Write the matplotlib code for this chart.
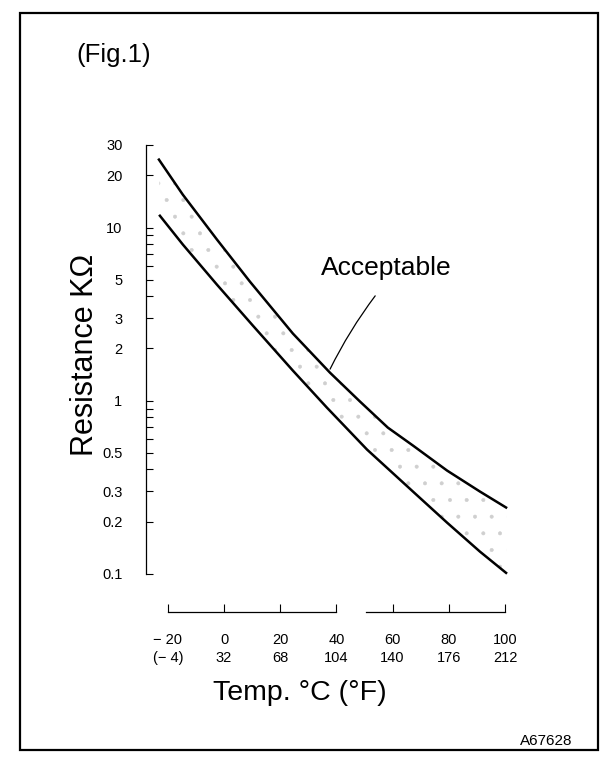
import matplotlib
matplotlib.use("Agg")
import matplotlib.pyplot as plt
from matplotlib.ticker import FixedLocator, NullFormatter
from matplotlib.patches import Rectangle

plt.rcParams['font.family'] = ['Liberation Sans', 'DejaVu Sans']
plt.rcParams['hatch.linewidth'] = 0.4

# upper limit curve (deg C, kOhm)
upper_temps = [-23.2, -14.7, -2.55, 9.2, 24.5, 37.7, 48.4, 58.3, 67.3, 79.4, 91.1, 100.4]
upper_kohm = [24.7, 15.5, 8.53, 4.87, 2.44, 1.45, 0.987, 0.698, 0.549, 0.394, 0.298, 0.241]

# lower limit curve
lower_temps = [-22.85, -14.66, -2.55, 10.27, 24.5, 36.6, 50.9, 67.25, 79.4, 91.1, 100.4]
lower_kohm = [11.7, 7.97, 4.68, 2.71, 1.49, 0.911, 0.521, 0.298, 0.197, 0.134, 0.101]

y_ticks = [0.1, 0.2, 0.3, 0.5, 1, 2, 3, 5, 10, 20, 30]
y_ticklabels = ['0.1', '0.2', '0.3', '0.5', '1', '2', '3', '5', '10', '20', '30']
y_minor = [0.4, 0.6, 0.7, 0.8, 0.9, 4, 6, 7, 8, 9]
x_ticks = [-20, 0, 20, 40, 60, 80, 100]
x_ticklabels = ['\u2212 20\n(\u2212 4)', '0\n32', '20\n68', '40\n104',
                '60\n140', '80\n176', '100\n212']

fig = plt.figure(figsize=(6.08, 7.64), dpi=100)
ax = fig.add_axes([146 / 608, 152 / 764, 364 / 608, 467 / 764])

# acceptable band + limit curves
ax.fill(upper_temps + lower_temps[::-1], upper_kohm + lower_kohm[::-1],
        facecolor='none', edgecolor='#cfcfcf', hatch='.', linewidth=0)
ax.plot(upper_temps, upper_kohm, color='black', lw=1.8)
ax.plot(lower_temps, lower_kohm, color='black', lw=1.8)

ax.set_yscale('log')
ax.set_ylim(0.06, 30)
ax.set_xlim(-27.8, 101.8)

ax.yaxis.set_major_locator(FixedLocator(y_ticks))
ax.set_yticklabels(y_ticklabels)
ax.yaxis.set_minor_locator(FixedLocator(y_minor))
ax.yaxis.set_minor_formatter(NullFormatter())
ax.tick_params(axis='y', which='both', direction='in', length=5, width=0.8,
               pad=17, labelsize=10.5)

ax.set_xticks(x_ticks)
ax.set_xticklabels(x_ticklabels)
for t in ax.get_xticklabels():
    t.set_linespacing(1.35)
ax.tick_params(axis='x', direction='in', length=6, width=0.8, pad=15,
               labelsize=10.5)

for s in ['top', 'right', 'bottom']:
    ax.spines[s].set_visible(False)
ax.spines['left'].set_bounds(0.1, 30)
ax.spines['left'].set_linewidth(0.9)

# broken temperature axis
xt = ax.get_xaxis_transform()
ax.plot([-20, 40], [0, 0], color='black', lw=0.9, transform=xt, clip_on=False)
ax.plot([50.5, 100], [0, 0], color='black', lw=0.9, transform=xt, clip_on=False)

# "Acceptable" callout
ax.text(57.6, 5.8, 'Acceptable', fontsize=19, ha='center', va='center')
ax.annotate('', xy=(37.3, 1.47), xytext=(54.4, 4.15),
            arrowprops=dict(arrowstyle='-', lw=0.9, color='black',
                            connectionstyle='arc3,rad=0.05'))

fig.text(85 / 608, 1 - 355 / 764, 'Resistance K\u03a9', rotation=90,
         fontsize=22, ha='center', va='center')
fig.text(300 / 608, 1 - 693 / 764, 'Temp. \u00b0C (\u00b0F)', fontsize=20.5,
         ha='center', va='center')
fig.text(114 / 608, 1 - 55 / 764, '(Fig.1)', fontsize=18.5,
         ha='center', va='center')
fig.text(572 / 608, 1 - 741 / 764, 'A67628', fontsize=11,
         ha='right', va='center')

fig.patches.append(Rectangle((20 / 608, 1 - 750 / 764), 578 / 608, 737 / 764,
                             transform=fig.transFigure, fill=False,
                             edgecolor='black', lw=1.6))

fig.savefig('out.png', dpi=100)
